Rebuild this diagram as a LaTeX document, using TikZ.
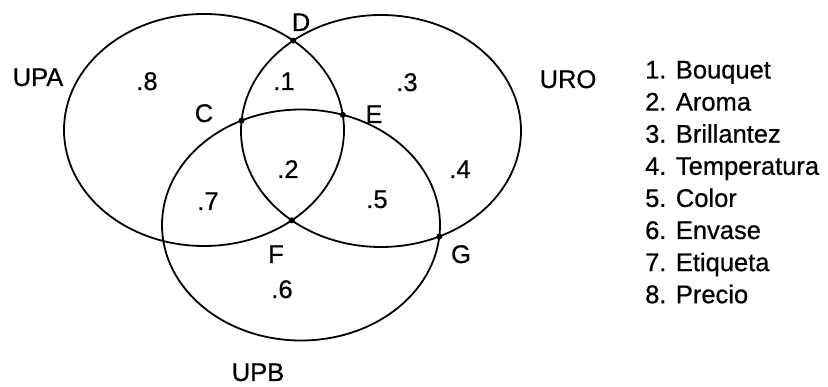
\documentclass[tikz,border=0pt]{standalone}
\usepackage{fontspec}
\setmainfont{Liberation Sans}
\newfontfamily\scanfont{Liberation Sans}[FakeBold=0.6]
\usetikzlibrary{intersections}
\begin{document}
\begin{tikzpicture}[x=1pt,y=-1pt,
  ell/.style={line width=1.8pt},
  lbl/.style={font=\scanfont\fontsize{25.5}{30}\selectfont, inner sep=0pt, anchor=base},
  item/.style={font=\scanfont\fontsize{25.5}{30}\selectfont, inner sep=0pt, anchor=base west},
  dot/.style={circle, fill=black, inner sep=0pt, minimum size=6pt}]
\useasboundingbox (0,0) rectangle (828,387);
% ellipses
\draw[ell, name path=upa] (204,130) ellipse [x radius=140, y radius=116];
\draw[ell, name path=uro] (381,131) ellipse [x radius=140, y radius=116];
\draw[ell, name path=upb] (301,225) ellipse [x radius=139, y radius=115.5];
% intersection points
\path[name intersections={of=upa and uro, sort by=upa, name=ao}];
\path[name intersections={of=uro and upb, sort by=uro, name=ob}];
\path[name intersections={of=upb and upa, sort by=upb, name=ba}];
\node[dot] (F) at (ao-1) {};
\node[dot] (D) at (ao-2) {};
\node[dot] (G) at (ob-1) {};
\node[dot] (C) at (ob-2) {};
\node[dot] (E) at (ba-2) {};
% set labels
\node[lbl] (lupa) at (38,86) {UPA};
\node[lbl] (luro) at (568,88) {URO};
\node[lbl] (lupb) at (258,381) {UPB};
% point labels
\node[lbl] (lD) at (301,31) {D};
\node[lbl] (lC) at (204,122) {C};
\node[lbl] (lE) at (374,123) {E};
\node[lbl] (lF) at (276,263) {F};
\node[lbl] (lG) at (461,263) {G};
% region numbers
\node[lbl] (r1) at (284,90) {.1};
\node[lbl] (r2) at (288,178) {.2};
\node[lbl] (r3) at (407,91) {.3};
\node[lbl] (r4) at (460,178) {.4};
\node[lbl] (r5) at (377,208) {.5};
\node[lbl] (r6) at (282,298) {.6};
\node[lbl] (r7) at (208,210) {.7};
\node[lbl] (r8) at (147,90) {.8};
% legend
\node[item] (i1) at (645,78.5) {1. Bouquet};
\node[item] (i2) at (645,110.6) {2. Aroma};
\node[item] (i3) at (645,142.7) {3. Brillantez};
\node[item] (i4) at (645,174.8) {4. Temperatura};
\node[item] (i5) at (645,206.9) {5. Color};
\node[item] (i6) at (645,239.0) {6. Envase};
\node[item] (i7) at (645,271.1) {7. Etiqueta};
\node[item] (i8) at (645,303.2) {8. Precio};
\end{tikzpicture}
\end{document}
